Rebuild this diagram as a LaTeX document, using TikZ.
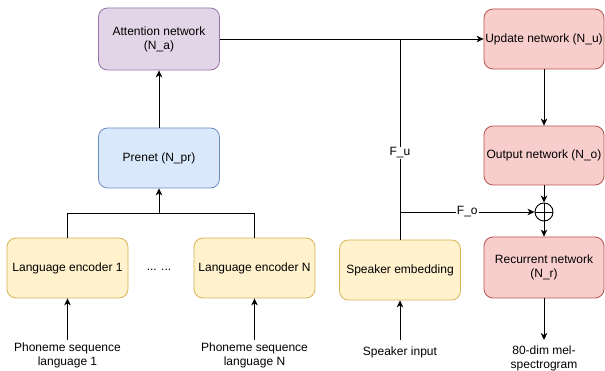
\documentclass[tikz,border=0pt]{standalone}
\usepackage{fontspec}
\setmainfont{Liberation Sans}
\usetikzlibrary{arrows.meta}
\definecolor{pfill}{HTML}{E1D5E7}\definecolor{pline}{HTML}{9673A6}
\definecolor{bfill}{HTML}{DAE8FC}\definecolor{bline}{HTML}{6C8EBF}
\definecolor{yfill}{HTML}{FFF2CC}\definecolor{yline}{HTML}{D6B656}
\definecolor{rfill}{HTML}{F8CECC}\definecolor{rline}{HTML}{B85450}
\tikzset{
  box/.style={draw, rounded corners=9pt, minimum width=121pt, minimum height=60pt, align=center, inner sep=1pt, line width=0.8pt},
  purplebox/.style={box, fill=pfill, draw=pline},
  bluebox/.style={box, fill=bfill, draw=bline},
  yellowbox/.style={box, fill=yfill, draw=yline},
  redbox/.style={box, fill=rfill, draw=rline},
  arr/.style={-{Stealth[length=7pt,width=6.5pt,inset=2pt]}},
  conn/.style={line width=0.9pt},
  lbl/.style={fill=white, inner sep=1pt},
  txt/.style={align=center, inner xsep=1pt}
}
\begin{document}
\begin{tikzpicture}[x=1pt,y=-1pt, font=\fontsize{12}{14}\selectfont]
\useasboundingbox (0,0) rectangle (605,371);
\fill[white] (0,0) rectangle (605,371);
\node[purplebox, minimum height=62pt] (att) at (159,39) {Attention network\\(N\_a)};
\node[bluebox] (pre) at (159,158) {Prenet (N\_pr)};
\node[yellowbox] (le1) at (67.5,268) {Language encoder 1};
\node[yellowbox] (len) at (254.5,268) {Language encoder N};
\node[txt] (dots) at (159,270) {... ...};
\node[yellowbox] (spk) at (400,270) {Speaker embedding};
\node[redbox, minimum width=120pt] (upd) at (544,39) {Update network (N\_u)};
\node[redbox, minimum width=120pt, minimum height=59pt] (out) at (544,155.5) {Output network (N\_o)};
\node[redbox, minimum width=120pt, minimum height=61pt] (rec) at (544,267.5) {Recurrent network\\(N\_r)};
\node[circle, draw, conn, minimum size=18pt, inner sep=0pt] (op) at (544,212) {};
\draw[conn] (op.north) -- (op.south) (op.west) -- (op.east);

\node[txt, anchor=north, inner ysep=3pt] (ph1) at (67.5,340) {Phoneme sequence\\language 1};
\node[txt, anchor=north, inner ysep=3pt] (phn) at (254.5,340) {Phoneme sequence\\language N};
\node[txt, anchor=north, inner ysep=7pt] (spin) at (400,340) {Speaker input};
\node[txt, anchor=north, inner ysep=6pt] (mel) at (544,340) {80-dim mel-\\spectrogram};

\coordinate (bus) at (159,213);
\coordinate (j) at (400,39);
\coordinate (jo) at (400,212);

\draw[conn] (le1.north) -- (le1.north |- bus) -- (len.north |- bus) -- (len.north);
\draw[conn, arr] (bus) -- (pre.south);
\draw[conn, arr] (pre.north) -- (att.south);
\draw[conn, arr] (ph1.north) -- (le1.south);
\draw[conn, arr] (phn.north) -- (len.south);
\draw[conn, arr] (spin.north) -- (spk.south);
\draw[conn, arr] (att.east) -- (upd.west);
\draw[conn] (spk.north) -- (j);
\node[lbl] (fu) at (400,153) {F\_u};
\draw[conn, arr] (jo) -- node[lbl] (fo) {F\_o} (op.west);
\draw[conn, arr] (upd.south) -- (out.north);
\draw[conn, arr] (out.south) -- (op.north);
\draw[conn, arr] (op.south) -- (rec.north);
\draw[conn, arr] (rec.south) -- (mel.north);
\end{tikzpicture}
\end{document}
